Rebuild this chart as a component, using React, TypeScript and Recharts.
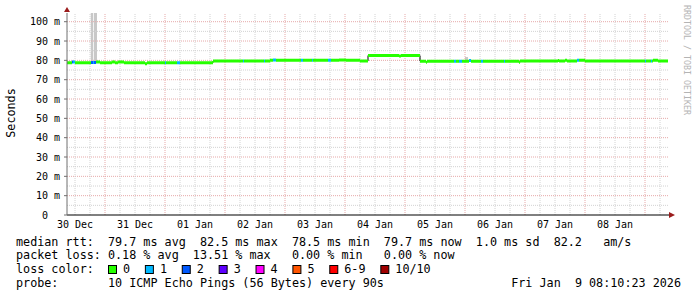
import React from 'react';
import { ComposedChart, Line, Area, XAxis, YAxis, ReferenceLine } from 'recharts';

// x values are hours since 30 Dec 00:00
const xDomain: [number, number] = [8.8, 249.6];
const yDomain: [number, number] = [0, 104.5];
const dayLabelHours = [12, 36, 60, 84, 108, 132, 156, 180, 204, 228];
const dayLabels = ['30 Dec', '31 Dec', '01 Jan', '02 Jan', '03 Jan', '04 Jan', '05 Jan', '06 Jan', '07 Jan', '08 Jan'];
const yTicks = [0, 10, 20, 30, 40, 50, 60, 70, 80, 90, 100];

// median rtt: start hour of each step, value (ms), loss count
const rttStartHours = [
  8.8, 10.8, 11.2, 12.0, 18.4, 19.2, 19.6, 20.4, 22.0, 26.8, 28.0, 29.2, 31.6, 40.0, 40.8, 48.0, 48.4, 52.8, 54.0,
  67.2, 79.2, 79.6, 87.6, 88.0, 90.0, 91.2, 92.4, 102.4, 103.2, 106.8, 107.2, 113.2, 114.4, 117.6, 120.4, 126.0,
  129.2, 141.6, 142.4, 150.0, 152.4, 152.8, 163.6, 164.4, 165.6, 166.8, 169.6, 170.4, 174.4, 175.2, 183.6, 184.0,
  189.6, 190.0, 205.2, 205.6, 208.0, 208.8, 212.8, 213.6, 216.0, 240.0, 240.4, 242.4, 242.8, 243.2, 245.2,
];
const rttMs = [
  78.8, 79.1, 79.1, 78.8, 78.9, 78.9, 78.9, 79.1, 78.8, 79.1, 78.8, 79.1, 78.8, 78.3, 78.8, 78.8, 78.8, 78.8, 78.8,
  79.7, 79.7, 79.7, 79.7, 79.7, 80.0, 80.2, 80.0, 80.0, 80.0, 80.0, 80.0, 80.0, 80.0, 80.2, 80.0, 79.7,
  82.5, 82.2, 82.5, 79.6, 79.0, 79.6, 79.6, 79.6, 79.6, 79.6, 79.9, 79.6, 79.6, 79.6, 79.6, 79.6,
  79.0, 79.7, 79.9, 79.7, 80.0, 79.7, 80.0, 80.0, 79.7, 79.7, 79.7, 79.7, 79.7, 80.0, 79.7,
];
const lossCount = [
  0, 2, 1, 0, 2, 1, 2, 0, 0, 0, 0, 0, 0, 0, 0, 1, 0, 1, 0,
  0, 1, 0, 1, 0, 0, 1, 0, 1, 0, 1, 0, 1, 0, 0, 0, 0,
  0, 0, 0, 0, 0, 0, 1, 0, 1, 0, 1, 0, 1, 0, 1, 0,
  0, 0, 0, 0, 0, 0, 1, 0, 0, 1, 0, 1, 0, 0, 0,
];
const rttEndHour = 249.2;

// smoke (spread of the pings)
const smokeStartHours = [18.3, 19.6, 168.0];
const smokeEndHours = [19.3, 20.8, 169.2];
const smokeLowMs = [78.8, 78.8, 79.9];
const smokeHighMs = [120, 120, 81.7];

const lossLabels = ['0', '1', '2', '3', '4', '5', '6-9', '10/10'];
const lossColors = ['#26ff00', '#00b8ff', '#0059ff', '#5e00ff', '#ff00ff', '#ff5500', '#ff0000', '#a00000'];

const statLines = [
  'median rtt:  79.7 ms avg  82.5 ms max  78.5 ms min  79.7 ms now  1.0 ms sd  82.2   am/s',
  'packet loss: 0.18 % avg  13.51 % max   0.00 % min   0.00 % now',
];
const probeLine = 'probe:       10 ICMP Echo Pings (56 Bytes) every 90s';
const dateLine = 'Fri Jan  9 08:10:23 2026';

const MONO = '"DejaVu Sans Mono", monospace';
const MINOR = '#d2d2d2';
const MAJOR = '#e6a9a9';

function YTick(props: any) {
  const { x, y, payload } = props;
  const v = payload.value;
  return (
    <text x={v === 0 ? x - 12 : x} y={y} dy="0.355em" textAnchor="end" fontSize={10} fontFamily={MONO} fill="#000">
      {v === 0 ? '0' : `${v} m`}
    </text>
  );
}

export default function App() {
  const segs = rttStartHours.map((s, i) => ({
    s,
    e: i + 1 < rttStartHours.length ? rttStartHours[i + 1] : rttEndHour,
    v: rttMs[i],
    loss: lossCount[i],
  }));
  const stepData = segs.flatMap((g) => [{ t: g.s, v: g.v }, { t: g.e, v: g.v }]);
  const lossLevels = [0, 1, 2];
  const lossSeries = lossLevels.map((k) =>
    segs
      .filter((g) => g.loss === k)
      .flatMap((g) => [{ t: g.s, v: g.v }, { t: g.e, v: g.v }, { t: g.e, v: null }])
  );
  const smokeData = smokeStartHours.flatMap((s, i) => [
    { t: s, r: [smokeLowMs[i], smokeHighMs[i]] },
    { t: smokeEndHours[i], r: [smokeLowMs[i], smokeHighMs[i]] },
    { t: smokeEndHours[i], r: null },
  ]);

  const hGrid: { v: number; major: boolean }[] = [];
  for (let v = 5; v <= 100; v += 5) hGrid.push({ v, major: v % 10 === 0 });
  const vGrid: { h: number; major: boolean }[] = [];
  for (let h = 12; h < xDomain[1]; h += 6) vGrid.push({ h, major: h % 24 === 0 });

  // legend box positions
  const boxes: { x: number; label: string; color: string }[] = [];
  let bx = 108;
  lossLabels.forEach((lab, i) => {
    boxes.push({ x: bx, label: lab, color: lossColors[i] });
    bx = bx + 15 + lab.length * 7.08 + 14.8;
  });

  return (
    <div style={{ position: 'absolute', left: 0, top: 0, width: 697, height: 297, background: '#fff' }}>
      <ComposedChart width={697} height={297} margin={{ top: 13, right: 28, bottom: 0, left: 0 }}>
        <XAxis
          type="number"
          dataKey="t"
          domain={xDomain}
          allowDataOverflow
          ticks={dayLabelHours}
          interval={0}
          tickFormatter={(v: number) => dayLabels[dayLabelHours.indexOf(v)] ?? ''}
          tickLine={false}
          tickSize={0}
          tickMargin={6}
          height={82}
          axisLine={{ stroke: '#000' }}
          tick={{ fontSize: 10, fill: '#000', fontFamily: MONO }}
        />
        <YAxis
          type="number"
          domain={yDomain}
          allowDataOverflow
          ticks={yTicks}
          interval={0}
          width={67}
          tickSize={3}
          tickMargin={4}
          tick={<YTick />}
          axisLine={{ stroke: '#707070' }}
          tickLine={{ stroke: '#707070' }}
        />
        {hGrid.map((g) => (
          <ReferenceLine key={'h' + g.v} y={g.v} stroke={g.major ? MAJOR : MINOR} strokeDasharray="1 1" />
        ))}
        {vGrid.map((g) => (
          <ReferenceLine key={'v' + g.h} x={g.h} stroke={g.major ? MAJOR : MINOR} strokeDasharray="1 1" />
        ))}
        <Area
          data={smokeData}
          dataKey="r"
          type="linear"
          fill="#c8c8c8"
          fillOpacity={1}
          stroke="none"
          connectNulls={false}
          isAnimationActive={false}
        />
        <Line data={stepData} dataKey="v" type="linear" stroke="#000" strokeWidth={1} dot={false} isAnimationActive={false} />
        {lossSeries.map((d, i) => (
          <Line
            key={'loss' + i}
            data={d}
            dataKey="v"
            type="linear"
            stroke={lossColors[lossLevels[i]]}
            strokeWidth={3}
            dot={false}
            connectNulls={false}
            isAnimationActive={false}
          />
        ))}
      </ComposedChart>
      <svg
        width={697}
        height={297}
        style={{ position: 'absolute', left: 0, top: 0, pointerEvents: 'none' }}
        fontFamily={MONO}
      >
        <polygon points="64,12 70,12 67,7" fill="#9b1c1c" />
        <polygon points="669,212 669,218 675,215" fill="#9b1c1c" />
        <text x={15} y={113} transform="rotate(-90 15 113)" textAnchor="middle" fontSize={11.75} fill="#000">
          Seconds
        </text>
        <text
          x={684}
          y={5}
          transform="rotate(90 684 5)"
          fontSize={8.5}
          fill="#b4b4b4"
          textLength={110}
          lengthAdjust="spacingAndGlyphs"
        >
          RRDTOOL / TOBI OETIKER
        </text>
        {statLines.map((s, i) => (
          <text key={i} x={16} y={245.7 + i * 13.4} fontSize={11.75} fill="#000" style={{ whiteSpace: 'pre' }}>
            {s}
          </text>
        ))}
        <text x={16} y={273.2} fontSize={11.75} fill="#000" style={{ whiteSpace: 'pre' }}>
          loss color:
        </text>
        {boxes.map((b) => (
          <g key={b.label}>
            <rect x={b.x + 0.5} y={265.5} width={8} height={8} fill={b.color} stroke="#000" strokeWidth={1} />
            <text x={b.x + 15} y={273.2} fontSize={11.75} fill="#000">
              {b.label}
            </text>
          </g>
        ))}
        <text x={16} y={286.7} fontSize={11.75} fill="#000" style={{ whiteSpace: 'pre' }}>
          {probeLine}
        </text>
        <text x={681} y={286.7} fontSize={11.75} fill="#000" textAnchor="end" style={{ whiteSpace: 'pre' }}>
          {dateLine}
        </text>
      </svg>
    </div>
  );
}
